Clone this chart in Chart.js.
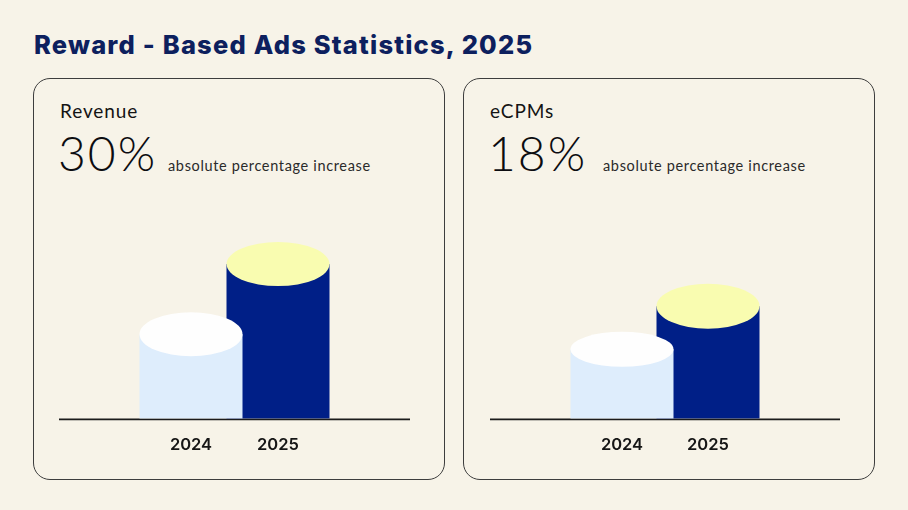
<!DOCTYPE html>
<html>
<head>
<meta charset="utf-8">
<script src="https://cdn.jsdelivr.net/npm/chart.js@4.4.1/dist/chart.umd.min.js"></script>
<style>
  html, body { margin: 0; padding: 0; }
  body { width: 908px; height: 510px; background: #f7f3e8; position: relative; overflow: hidden; font-family: "Lato", "Inter", sans-serif; }
  .title { position: absolute; left: 34px; top: 30px; font-family: "Inter", sans-serif; font-weight: 800; font-size: 25.5px; line-height: 30px; color: #0d205e; white-space: nowrap; letter-spacing: 1.2px; }
  .panel { position: absolute; top: 78px; width: 410px; height: 400px; border: 1px solid #3d3d3d; border-radius: 17px; }
  .label { position: absolute; font-size: 19px; line-height: 20px; color: #141414; white-space: nowrap; letter-spacing: 0.9px; }
  .big { position: absolute; font-size: 48px; line-height: 50px; font-weight: 300; color: #0c0c10; white-space: nowrap; letter-spacing: 2px; }
  .small { position: absolute; font-size: 14.5px; line-height: 16px; color: #2a2a2a; white-space: nowrap; letter-spacing: 0.65px; }
  canvas { position: absolute; }
  .cw { position: absolute; }
</style>
</head>
<body>
<div class="title">Reward - Based Ads Statistics, 2025</div>
<div class="panel" style="left:33px"></div>
<div class="panel" style="left:463px"></div>

<div class="label" style="left:60px; top:101px">Revenue</div>
<div class="big" style="left:58px; top:128px">30%</div>
<div class="small" style="left:168px; top:158px">absolute percentage increase</div>

<div class="label" style="left:490px; top:101px">eCPMs</div>
<div class="big" style="left:488px; top:128px">18%</div>
<div class="small" style="left:603px; top:158px">absolute percentage increase</div>

<div class="cw" style="left:59px; top:195px; width:351px; height:280px;"><canvas id="c1"></canvas></div>
<div class="cw" style="left:490px; top:195px; width:350px; height:280px;"><canvas id="c2"></canvas></div>

<script>
// ---- data ----
const years = ['2024', '2025'];
const revenueValues = [85, 155];
const ecpmValues = [70, 113];
const yMax = 200;

// ---- styles ----
const bodyColors = ['#deedfc', '#001f87'];
const capColors = ['#fefefe', '#f9fcb0'];

const cylinderPlugin = {
  id: 'cylinders',
  afterDatasetsDraw(chart, args, opts) {
    const ctx = chart.ctx;
    const meta = chart.getDatasetMeta(0);
    const area = chart.chartArea;
    ctx.save();
    ctx.strokeStyle = '#1b1b1b';
    ctx.lineWidth = 1.8;
    ctx.beginPath();
    ctx.moveTo(0, area.bottom);
    ctx.lineTo(chart.width, area.bottom);
    ctx.stroke();
    // draw last bar first so earlier bars sit in front
    for (let i = meta.data.length - 1; i >= 0; i--) {
      const bar = meta.data[i];
      const p = bar.getProps(['x', 'y', 'base', 'width'], true);
      const rx = p.width / 2;
      const ry = opts.capRy[i];
      ctx.fillStyle = bodyColors[i];
      ctx.fillRect(p.x - rx, p.y, p.width, p.base - p.y - 1);
      ctx.fillStyle = capColors[i];
      ctx.beginPath();
      ctx.ellipse(p.x, p.y, rx, ry, 0, 0, Math.PI * 2);
      ctx.fill();
    }
    ctx.restore();
  }
};

function makeChart(id, values, capRy, padSide) {
  return new Chart(document.getElementById(id), {
    type: 'bar',
    data: {
      labels: years,
      datasets: [{ data: values, backgroundColor: 'rgba(0,0,0,0)', barThickness: 103 }]
    },
    options: {
      responsive: true,
      maintainAspectRatio: false,
      animation: false,
      events: [],
      layout: { padding: { left: padSide, right: padSide, top: 24, bottom: 11.8 } },
      plugins: {
        legend: { display: false },
        tooltip: { enabled: false },
        cylinders: { capRy: capRy }
      },
      scales: {
        x: {
          grid: { display: false },
          border: { display: false },
          ticks: { padding: 8, color: '#161616', font: { family: 'Inter', size: 16.5, weight: '600' } }
        },
        y: { display: false, min: 0, max: yMax }
      }
    },
    plugins: [cylinderPlugin]
  });
}

makeChart('c1', revenueValues, [22, 22], 88.5);
makeChart('c2', ecpmValues, [17.5, 22.5], 89);
</script>
</body>
</html>
